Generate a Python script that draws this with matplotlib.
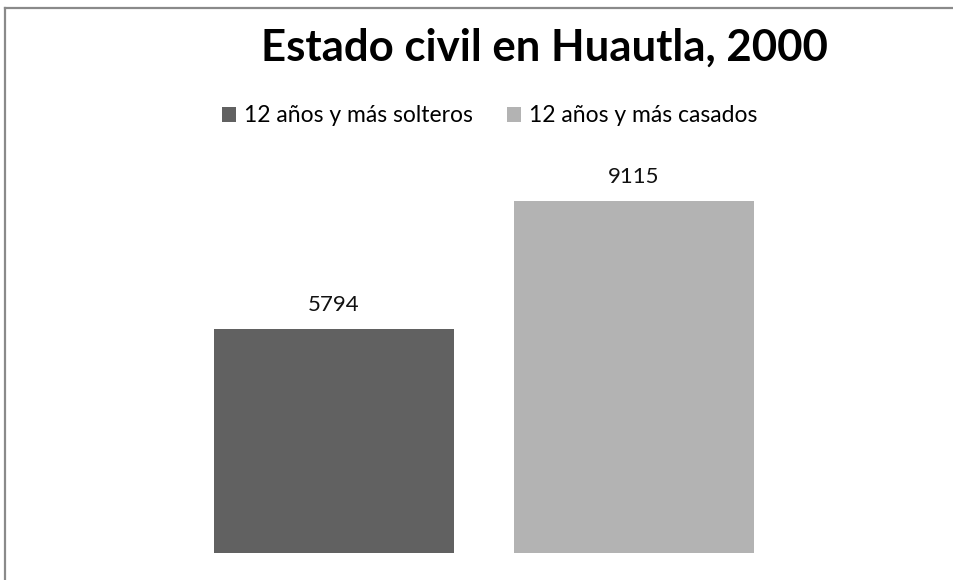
import matplotlib.pyplot as plt
from matplotlib.patches import Patch
from matplotlib.lines import Line2D

plt.rcParams['font.family'] = ['Lato', 'DejaVu Sans']

# data
series = ['12 años y más solteros', '12 años y más casados']
values = [5794, 9115]
colors = ['#616161', '#b3b3b3']

W, H = 954, 580
fig = plt.figure(figsize=(W / 100, H / 100), dpi=100)

# bar area
ax = fig.add_axes([184 / W, 1 - 553 / H, 600 / W, 386 / H])
bars = ax.bar(range(len(values)), values, width=0.8, color=colors)
ax.set_xlim(-0.5, 1.5)
ax.set_ylim(0, 10000)
ax.axis('off')

for b, v in zip(bars, values):
    ax.annotate(str(v), (b.get_x() + b.get_width() / 2, v), xytext=(0, 10),
                textcoords='offset points', ha='center', va='bottom',
                fontsize=16, color='#111111')

# title
fig.text(544 / W, 1 - 48 / H, 'Estado civil en Huautla, 2000', ha='center',
         va='center', fontsize=31.5, fontweight='bold', color='black')

# legend
handles = [Patch(facecolor=c, edgecolor='none') for c in colors]
fig.legend(handles, series, loc='center', bbox_to_anchor=(490 / W, 1 - 116 / H),
           ncol=2, frameon=False, fontsize=16.5, handlelength=0.6,
           handleheight=0.6, handletextpad=0.35, columnspacing=1.5)

# top and left border of the chart area
fig.add_artist(Line2D([5 / W, 5 / W], [0, 1 - 8 / H], color='#8a8a8a', lw=1.6,
                      transform=fig.transFigure))
fig.add_artist(Line2D([5 / W, 1], [1 - 8 / H, 1 - 8 / H], color='#8a8a8a', lw=1.6,
                      transform=fig.transFigure))

fig.savefig('out.png', dpi=100)
